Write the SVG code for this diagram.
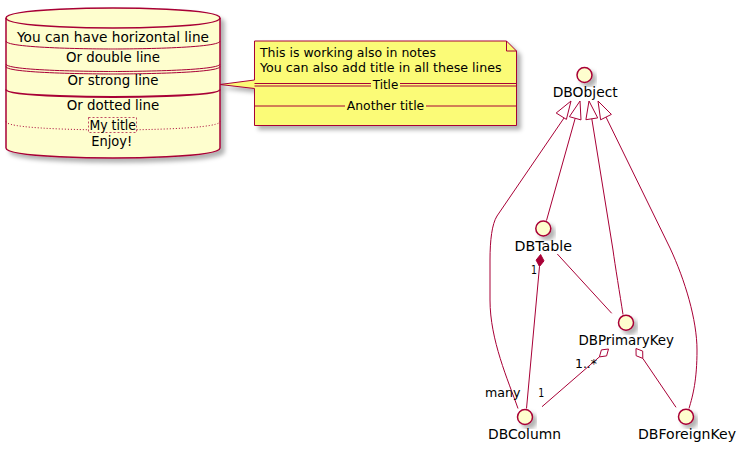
<svg xmlns="http://www.w3.org/2000/svg" width="753" height="452" viewBox="0 0 753 452">
<defs>
<filter id="sh" x="-20%" y="-20%" width="150%" height="150%"><feDropShadow dx="4" dy="4" stdDeviation="2" flood-color="#000" flood-opacity="0.3"/></filter>
<style>
text{font-family:"DejaVu Sans","Liberation Sans",sans-serif;fill:#000}
.c{text-anchor:middle}
.t13{font-size:13px}
.t14{font-size:14px}
.ln{fill:none;stroke:#A80036;stroke-width:1}
.iface{fill:#FEFECE;stroke:#A80036;stroke-width:1.5;filter:url(#sh)}
.tri{fill:none;stroke:#A80036;stroke-width:1}
</style>
</defs>
<rect width="753" height="452" fill="#FFFFFF"/>

<g id="database">
<path d="M6,18 C6,8 113,8 113,8 C113,8 220,8 220,18 L220,148 C220,158 113,158 113,158 C113,158 6,158 6,148 Z" fill="#FEFECE" stroke="#A80036" stroke-width="1.5" filter="url(#sh)"/>
<path d="M6,18 C6,28 113,28 113,28 C113,28 220,28 220,18" fill="none" stroke="#A80036" stroke-width="1.5"/>
<text class="c t14" x="113" y="41.5" textLength="192" lengthAdjust="spacingAndGlyphs">You can have horizontal line</text>
<path d="M6,41 C6,49 113,49 113,49 C113,49 220,49 220,41" class="ln"/>
<text class="c t14" x="113" y="62" textLength="94" lengthAdjust="spacingAndGlyphs">Or double line</text>
<path d="M6,64 C6,71.5 113,71.5 113,71.5 C113,71.5 220,71.5 220,64" class="ln"/>
<path d="M6,66.5 C6,74 113,74 113,74 C113,74 220,74 220,66.5" class="ln"/>
<text class="c t14" x="113" y="85" textLength="91" lengthAdjust="spacingAndGlyphs">Or strong line</text>
<path d="M6,89.5 C6,97 113,97 113,97 C113,97 220,97 220,89.5" fill="none" stroke="#A80036" stroke-width="2"/>
<text class="c t14" x="113" y="110" textLength="92.5" lengthAdjust="spacingAndGlyphs">Or dotted line</text>
<path d="M6,121.5 C6,130 113,130 113,130 C113,130 220,130 220,121.5" fill="none" stroke="#A80036" stroke-width="1" stroke-dasharray="1,2"/>
<rect x="88.5" y="117.5" width="48" height="15" fill="#FEFECE" stroke="#A80036" stroke-width="0.7" stroke-dasharray="2,2"/>
<text class="c t14" x="112.7" y="129.5" textLength="46.5" lengthAdjust="spacingAndGlyphs">My title</text>
<text class="c t14" x="111.7" y="146" textLength="41" lengthAdjust="spacingAndGlyphs">Enjoy!</text>
</g>

<g id="note">
<path d="M254.5,41 L506.5,41 L516.5,51 L516.5,125.5 L254.5,125.5 L254.5,88.5 L220,84.5 L254.5,80 Z" fill="#FBFB77" stroke="#A80036" stroke-width="1" filter="url(#sh)"/>
<path d="M506.5,41 L506.5,51 L516.5,51" fill="none" stroke="#A80036" stroke-width="1"/>
<text class="t13" x="260" y="56.5" textLength="176" lengthAdjust="spacingAndGlyphs">This is working also in notes</text>
<text class="t13" x="260" y="72" textLength="241.5" lengthAdjust="spacingAndGlyphs">You can also add title in all these lines</text>
<path d="M254.5,83.5 H371 M400,83.5 H516.5 M254.5,86 H371 M400,86 H516.5" class="ln"/>
<text class="c t13" x="385.5" y="88.5" textLength="25.5" lengthAdjust="spacingAndGlyphs">Title</text>
<path d="M254.5,106 H345 M426,106 H516.5" class="ln"/>
<text class="c t13" x="385.5" y="110" textLength="77.5" lengthAdjust="spacingAndGlyphs">Another title</text>
</g>

<g id="connectors">
<!-- extensions to DBObject -->
<path class="ln" d="M564,118 L497,216 C492,224 490,240 490,260 L490,300 C490,340 508,380 518,408.5"/>
<polygon class="tri" points="571,101 566.4,119.4 556.2,113"/>
<path class="ln" d="M575.2,118.3 L546.5,220.5"/>
<polygon class="tri" points="580,101 581,119.9 569.4,116.7"/>
<path class="ln" d="M591.8,118.8 L613,250 C615,265 620,295 623,314.5"/>
<polygon class="tri" points="589,101 597.7,117.9 585.9,119.7"/>
<path class="ln" d="M606,117.1 L670,248 C685,280 697,320 697,350 C697,380 693,395 689,408.5"/>
<polygon class="tri" points="598,101 611.4,114.4 600.6,119.8"/>
<!-- composition DBTable - DBColumn -->
<polygon points="540.6,254.5 544,260.9 539.5,266.5 536.1,260.1" fill="#A80036" stroke="#A80036" stroke-width="1"/>
<path class="ln" d="M539.5,266.5 L526.5,408.5"/>
<!-- DBTable - DBPrimaryKey -->
<path class="ln" d="M557.3,254 L611.7,313.3"/>
<!-- aggregation DBPrimaryKey - DBColumn -->
<polygon points="608.5,349 606.6,355.9 599.4,356.9 601.4,349.9" fill="#FFFFFF" stroke="#A80036" stroke-width="1"/>
<path class="ln" d="M599.4,356.9 L542,406.7"/>
<!-- aggregation DBPrimaryKey - DBForeignKey -->
<polygon points="636,348.5 642.7,351.1 642.8,358.4 636.1,355.7" fill="#FFFFFF" stroke="#A80036" stroke-width="1"/>
<path class="ln" d="M642.8,358.4 L676,407.3"/>
<text class="t13" x="531" y="274" textLength="6" lengthAdjust="spacingAndGlyphs">1</text>
<text class="t13" x="575" y="367.5" textLength="22" lengthAdjust="spacingAndGlyphs">1..*</text>
<text class="t13" x="538.3" y="397" textLength="6" lengthAdjust="spacingAndGlyphs">1</text>
<text class="t13" x="485" y="396.5" textLength="35.5" lengthAdjust="spacingAndGlyphs">many</text>
</g>

<g id="DBObject">
<circle class="iface" cx="584.5" cy="75" r="7.5"/>
<text class="c t14" x="585.2" y="97" textLength="65" lengthAdjust="spacingAndGlyphs">DBObject</text>
</g>
<g id="DBTable">
<circle class="iface" cx="543.3" cy="228.5" r="7.5"/>
<text class="c t14" x="543.2" y="251" textLength="57.5" lengthAdjust="spacingAndGlyphs">DBTable</text>
</g>
<g id="DBPrimaryKey">
<circle class="iface" cx="626" cy="322.7" r="7.5"/>
<text class="c t14" x="626.2" y="345.3" textLength="95.5" lengthAdjust="spacingAndGlyphs">DBPrimaryKey</text>
</g>
<g id="DBColumn">
<circle class="iface" cx="525" cy="417" r="7.5"/>
<text class="c t14" x="524.5" y="439.3" textLength="73" lengthAdjust="spacingAndGlyphs">DBColumn</text>
</g>
<g id="DBForeignKey">
<circle class="iface" cx="686" cy="416.7" r="7.5"/>
<text class="c t14" x="687" y="439" textLength="98" lengthAdjust="spacingAndGlyphs">DBForeignKey</text>
</g>
</svg>
